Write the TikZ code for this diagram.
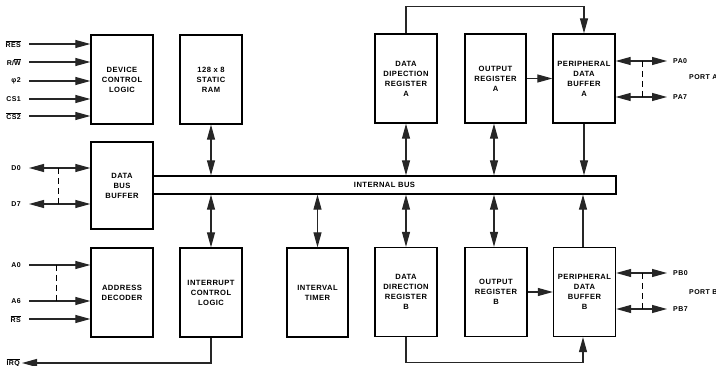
\documentclass[tikz,border=0pt]{standalone}
\usepackage{fontspec}
\setmainfont{Liberation Sans}[LetterSpace=6]
\usetikzlibrary{arrows.meta,positioning,calc}
\begin{document}
\begin{tikzpicture}[x=1pt,y=-1pt,
  font=\bfseries\fontsize{7.6}{10}\selectfont,
  blk/.style={draw, line width=1.3pt, minimum width=62pt, minimum height=89pt,
              inner sep=1pt, align=center},
  arr/.style={line width=1.1pt, draw=black!85,
              -{Triangle[length=15pt,width=8pt]}},
  dbl/.style={line width=1.1pt, draw=black!85,
              {Triangle[length=15pt,width=8pt]}-{Triangle[length=15pt,width=8pt]}},
  dsh/.style={line width=1pt, dash pattern=on 6pt off 4pt},
  lbl/.style={inner sep=1pt, font=\bfseries\fontsize{7}{8}\selectfont}]

\useasboundingbox[fill=white] (0,0) rectangle (716,366);

% functional blocks
\node[blk] (dcl)  at (122,79.5)  {DEVICE\\CONTROL\\LOGIC};
\node[blk, minimum height=87pt] (dbb) at (122,185.5) {DATA\\BUS\\BUFFER};
\node[blk] (adec) at (122,292.5) {ADDRESS\\DECODER};
\node[blk] (ram)  at (211,79.5)  {128 x 8\\STATIC\\RAM};
\node[blk] (icl)  at (211,292.5) {INTERRUPT\\CONTROL\\LOGIC};
\node[blk, minimum width=61pt] (itm) at (317.5,292.5) {INTERVAL\\TIMER};
\node[blk] (ddra) at (406,78.5)  {DATA\\DIPECTION\\REGISTER\\A};
\node[blk, minimum width=61pt] (ora) at (495.5,78.5) {OUTPUT\\REGISTER\\A};
\node[blk] (pdba) at (584,78.5)  {PERIPHERAL\\DATA\\BUFFER\\A};
\node[blk] (ddrb) at (406,292)   {DATA\\DIRECTION\\REGISTER\\B};
\node[blk] (orb)  at (496,292)   {OUTPUT\\REGISTER\\B};
\node[blk] (pdbb) at (584.5,292) {PERIPHERAL\\DATA\\BUFFER\\B};

% internal bus
\node[draw, line width=1.3pt, minimum width=463pt, minimum height=18pt, inner sep=0pt]
  (bus) at (384.5,185) {INTERNAL BUS};

% control inputs
\foreach \n/\y/\t in {res/44/{$\overline{\mbox{RES}}$}, rw/62/{R/$\overline{\mbox{W}}$},
                      phi/81/{φ2}, csa/99/{CS1}, csb/116/{$\overline{\mbox{CS2}}$}}{
  \coordinate (c\n) at (29,\y);
  \node[lbl, left=7pt of c\n] (l\n) {\t};
  \draw[arr] (c\n) -- (c\n -| dcl.west);
}

% data lines
\foreach \n/\y in {0/168,7/204}{
  \coordinate (cd\n) at (29,\y);
  \node[lbl, left=7pt of cd\n] (ld\n) {D\n};
  \draw[dbl] (cd\n) -- (cd\n -| dbb.west);
}
\draw[dsh] ([xshift=29pt]cd0) -- ([xshift=29pt]cd7);

% address lines
\foreach \n/\y/\t in {aa/265/{A0}, ab/301/{A6}, rs/319/{$\overline{\mbox{RS}}$}}{
  \coordinate (c\n) at (29,\y);
  \node[lbl, left=7pt of c\n] (l\n) {\t};
  \draw[arr] (c\n) -- (c\n -| adec.west);
}
\draw[dsh] ([xshift=27pt]caa) -- ([xshift=27pt]cab);

% interrupt request output
\coordinate (cirq) at (22,363);
\node[lbl, left=1pt of cirq] (lirq) {$\overline{\mbox{IRQ}}$};
\draw[arr] (icl.south) |- (cirq);

% bus connections
\draw[dbl] (ram.south)  -- (ram.south  |- bus.north);
\draw[dbl] (ddra.south) -- (ddra.south |- bus.north);
\draw[dbl] ([xshift=-1.5pt]ora.south) -- ([xshift=-1.5pt]ora.south |- bus.north);
\draw[arr] (pdba.south) -- (pdba.south |- bus.north);
\draw[dbl] (icl.north)  -- (icl.north  |- bus.south);
\draw[dbl] (itm.north)  -- (itm.north  |- bus.south);
\draw[dbl] (ddrb.north) -- (ddrb.north |- bus.south);
\draw[dbl] ([xshift=-2pt]orb.north) -- ([xshift=-2pt]orb.north |- bus.south);
\draw[arr] ([xshift=-1.5pt]pdbb.north) -- ([xshift=-1.5pt]pdbb.north |- bus.south);

% register to buffer paths
\draw[arr] (ora.east) -- (ora.east -| pdba.west);
\draw[arr] (orb.east) -- (orb.east -| pdbb.west);
\draw[arr] (ddra.north) -- ++(0,-27) -| (pdba.north);
\draw[arr] (ddrb.south) -- ++(0,25) -| ([xshift=-1.5pt]pdbb.south);

% port A
\coordinate (cpa0) at (667,61);
\coordinate (cpa7) at (667,97);
\draw[dbl] (cpa0 -| pdba.east) -- (cpa0);
\draw[dbl] (cpa7 -| pdba.east) -- (cpa7);
\draw[dsh] ([xshift=-25pt]cpa0) -- ([xshift=-25pt]cpa7);
\node[lbl, right=5pt of cpa0] (lpa0) {PA0};
\node[lbl, right=5pt of cpa7] (lpa7) {PA7};
\node[lbl, anchor=west] (lporta) at (688,77) {PORT A};

% port B
\coordinate (cpb0) at (667,273);
\coordinate (cpb7) at (667,309);
\draw[dbl] (cpb0 -| pdbb.east) -- (cpb0);
\draw[dbl] (cpb7 -| pdbb.east) -- (cpb7);
\draw[dsh] ([xshift=-25pt]cpb0) -- ([xshift=-25pt]cpb7);
\node[lbl, right=5pt of cpb0] (lpb0) {PB0};
\node[lbl, right=5pt of cpb7] (lpb7) {PB7};
\node[lbl, anchor=west] (lportb) at (688,292) {PORT B};
\end{tikzpicture}
\end{document}
